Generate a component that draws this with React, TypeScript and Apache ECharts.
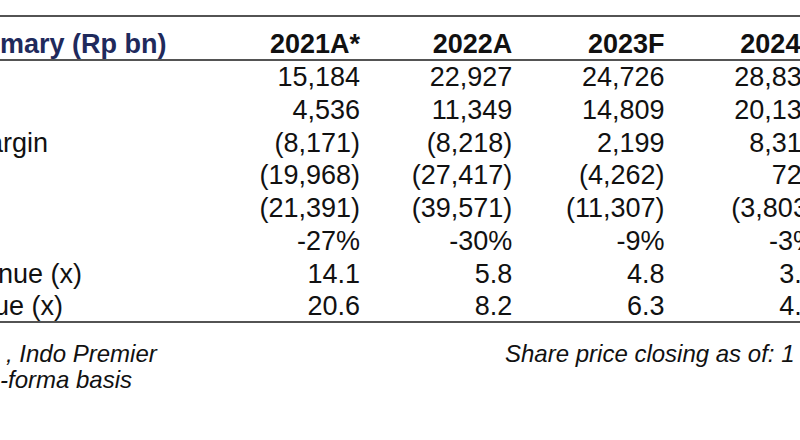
import React, { useEffect, useRef } from "react";
import * as echarts from "echarts";

// ---- data ----
const years = ["2021A*", "2022A", "2023F", "2024F"];
const headerLabel = "mary (Rp bn)";
const rowLabels = ["", "", "argin", "", "", "", "nue (x)", "ue (x)"];
const row1 = [15184, 22927, 24726, 28836];
const row2 = [4536, 11349, 14809, 20137];
const row3 = [-8171, -8218, 2199, 8315];
const row4 = [-19968, -27417, -4262, 725];
const row5 = [-21391, -39571, -11307, -3803];
const row6Pct = [-27, -30, -9, -3];
const row7Multiple = [14.1, 5.8, 4.8, 3.9];
const row8Multiple = [20.6, 8.2, 6.3, 4.5];
const footLeft1 = ", Indo Premier";
const footLeft2 = "-forma basis";
const footRight = "Share price closing as of: 1";

type Kind = "num" | "pct" | "mult";
const rows: { values: number[]; kind: Kind }[] = [
  { values: row1, kind: "num" },
  { values: row2, kind: "num" },
  { values: row3, kind: "num" },
  { values: row4, kind: "num" },
  { values: row5, kind: "num" },
  { values: row6Pct, kind: "pct" },
  { values: row7Multiple, kind: "mult" },
  { values: row8Multiple, kind: "mult" },
];

function fmt(v: number, kind: Kind): string {
  if (kind === "pct") return `${v}%`;
  if (kind === "mult") return v.toFixed(1);
  const s = Math.abs(v).toLocaleString("en-US");
  return v < 0 ? `(${s})` : s;
}

// ---- layout ----
const FONT = '"Liberation Sans", Arial, Helvetica, sans-serif';
const COL0 = 360; // right edge of first column (px)
const COL_STEP = 152.3;
const ROW0 = 77.3; // centre of first data row (px)
const ROW_STEP = 32.7;
const W = 800;
const H = 440;
const labelShift = [0, 0, -12, 0, 0, 0, -2, -6];

export default function App() {
  const ref = useRef<HTMLDivElement>(null);
  useEffect(() => {
    document.body.style.margin = "0";
    const chart = echarts.init(ref.current!, null, { renderer: "svg" });

    const cellData: any[] = [];
    const cellText: string[] = [];
    const cellBold: boolean[] = [];
    years.forEach((y, c) => {
      cellData.push([c, -1]);
      cellText.push(y);
      cellBold.push(true);
    });
    rows.forEach((r, ri) => {
      r.values.forEach((v, c) => {
        cellData.push([c, ri]);
        cellText.push(fmt(v, r.kind));
        cellBold.push(false);
      });
    });

    const xMin = -COL0 / COL_STEP;
    const labelData: any[] = [[xMin, -1]];
    const labelText: string[] = [headerLabel];
    const labelDx: number[] = [0];
    rowLabels.forEach((l, ri) => {
      if (l) {
        labelData.push([xMin, ri]);
        labelText.push(l);
        labelDx.push(labelShift[ri]);
      }
    });

    const option: any = {
      animation: false,
      backgroundColor: "#ffffff",
      grid: { left: 0, top: 0, width: W, height: H, containLabel: false },
      xAxis: {
        type: "value",
        min: xMin,
        max: (W - COL0) / COL_STEP,
        show: false,
      },
      yAxis: {
        type: "value",
        inverse: true,
        min: -ROW0 / ROW_STEP,
        max: (H - ROW0) / ROW_STEP,
        show: false,
      },
      series: [
        {
          type: "custom",
          clip: false,
          data: cellData,
          renderItem: (params: any, api: any) => {
            const p = api.coord([api.value(0), api.value(1)]);
            const bold = cellBold[params.dataIndex];
            return {
              type: "text",
              x: p[0],
              y: p[1] + (bold ? -1 : 0),
              style: {
                text: cellText[params.dataIndex],
                font: `${bold ? "bold " : ""}27px ${FONT}`,
                fill: "#111111",
                align: "right",
                verticalAlign: "middle",
              },
            };
          },
        },
        {
          type: "custom",
          clip: false,
          data: labelData,
          renderItem: (params: any, api: any) => {
            const p = api.coord([api.value(0), api.value(1)]);
            const i = params.dataIndex;
            const header = i === 0;
            return {
              type: "text",
              x: p[0] + labelDx[i],
              y: p[1] + (header ? -1 : 0),
              style: {
                text: labelText[i],
                font: `${header ? "bold " : ""}27px ${FONT}`,
                fill: header ? "#1f2a5c" : "#111111",
                align: "left",
                verticalAlign: "middle",
              },
            };
          },
        },
      ],
      graphic: [
        { type: "line", shape: { x1: 0, y1: 16, x2: W, y2: 16 }, style: { stroke: "#1a1a1a", lineWidth: 1.6 } },
        { type: "line", shape: { x1: 0, y1: 60, x2: W, y2: 60 }, style: { stroke: "#1a1a1a", lineWidth: 1.3 } },
        { type: "line", shape: { x1: 0, y1: 322, x2: W, y2: 322 }, style: { stroke: "#1a1a1a", lineWidth: 1.6 } },
        {
          type: "text",
          x: 6,
          y: 353,
          style: { text: footLeft1, font: `italic 24px ${FONT}`, fill: "#111111", align: "left", verticalAlign: "middle" },
        },
        {
          type: "text",
          x: 0,
          y: 379,
          style: { text: footLeft2, font: `italic 24px ${FONT}`, fill: "#111111", align: "left", verticalAlign: "middle" },
        },
        {
          type: "text",
          x: 505,
          y: 353,
          style: { text: footRight, font: `italic 24px ${FONT}`, fill: "#111111", align: "left", verticalAlign: "middle" },
        },
      ],
    };
    chart.setOption(option);
    return () => chart.dispose();
  }, []);
  return <div ref={ref} style={{ width: W, height: H }} />;
}
